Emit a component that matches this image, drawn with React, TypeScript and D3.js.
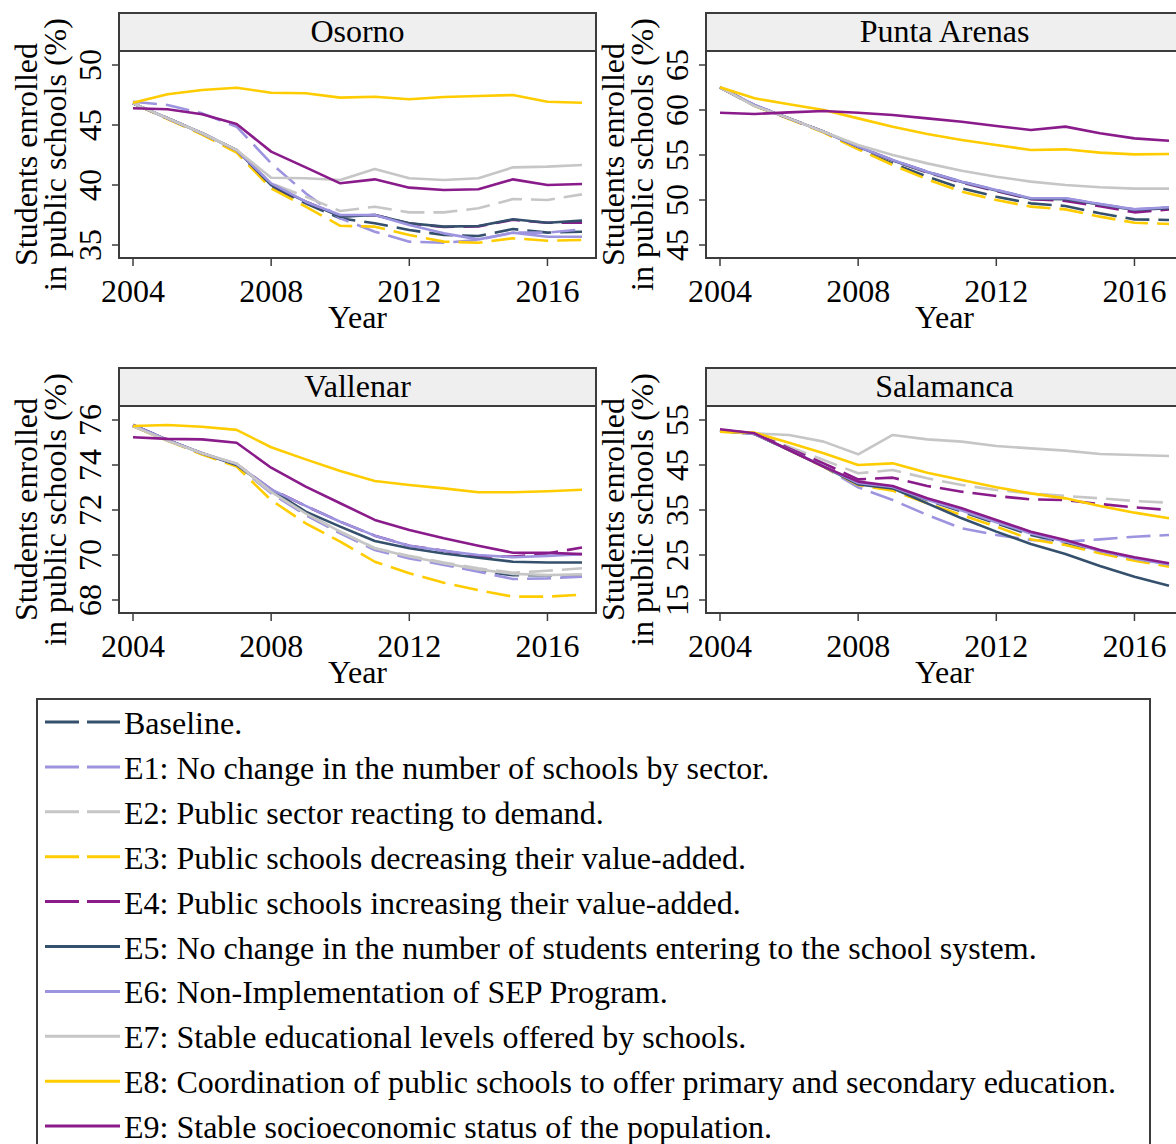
import React from "react";
import * as d3 from "d3";

// Simulation years shown on every panel
const years = [2004, 2005, 2006, 2007, 2008, 2009, 2010, 2011, 2012, 2013, 2014, 2015, 2016, 2017];
const xTicks = [2004, 2008, 2012, 2016];

// Scenario labels (legend order = drawing order)
const scenarioLabels = [
  "Baseline.",
  "E1: No change in the number of schools by sector.",
  "E2: Public sector reacting to demand.",
  "E3: Public schools decreasing their value-added.",
  "E4: Public schools increasing their value-added.",
  "E5: No change in the number of students entering to the school system.",
  "E6: Non-Implementation of SEP Program.",
  "E7: Stable educational levels offered by schools.",
  "E8: Coordination of public schools to offer primary and secondary education.",
  "E9: Stable socioeconomic status of the population.",
];
const scenarioColors = ["#34506c", "#9d94df", "#c6c6c6", "#ffcc00", "#8a1b8a", "#34506c", "#9d94df", "#c6c6c6", "#ffcc00", "#8a1b8a"];
const scenarioDashed = [true, true, true, true, true, false, false, false, false, false];

// Share of students enrolled in public schools (%), rows: Baseline, E1..E9
const osorno = [
  [46.8, 45.56, 44.31, 42.85, 39.86, 38.47, 37.22, 36.81, 36.25, 35.83, 35.75, 36.33, 36.03, 36.11],
  [46.94, 46.67, 45.97, 44.86, 41.81, 39.31, 37.22, 36.11, 35.28, 35.19, 35.42, 36.03, 36.03, 36.31],
  [46.8, 45.56, 44.31, 42.92, 40.14, 39.03, 37.83, 38.19, 37.72, 37.72, 38.06, 38.83, 38.75, 39.22],
  [46.8, 45.5, 44.2, 42.7, 39.72, 38.19, 36.6, 36.53, 35.83, 35.28, 35.19, 35.56, 35.36, 35.42],
  [46.8, 45.56, 44.31, 42.9, 40.0, 38.6, 37.4, 37.5, 36.8, 36.5, 36.55, 37.1, 36.85, 36.85],
  [46.8, 45.56, 44.31, 42.9, 40.0, 38.61, 37.36, 37.5, 36.81, 36.53, 36.58, 37.14, 36.86, 37.03],
  [46.8, 45.56, 44.31, 42.9, 40.14, 38.61, 37.5, 37.5, 36.67, 35.97, 35.47, 36.03, 35.69, 35.69],
  [46.81, 45.56, 44.31, 42.92, 40.61, 40.56, 40.42, 41.33, 40.56, 40.42, 40.56, 41.47, 41.53, 41.67],
  [46.86, 47.56, 47.92, 48.11, 47.69, 47.64, 47.28, 47.36, 47.14, 47.33, 47.42, 47.5, 46.94, 46.86],
  [46.39, 46.31, 45.89, 45.08, 42.78, 41.47, 40.14, 40.47, 39.78, 39.58, 39.64, 40.47, 40.0, 40.08],
];

const puntaArenas = [
  [62.52, 60.5, 59.07, 57.6, 55.74, 54.07, 52.59, 51.3, 50.37, 49.63, 49.33, 48.52, 47.85, 47.78],
  [62.52, 60.56, 59.07, 57.59, 55.93, 54.44, 53.15, 52.04, 51.11, 50.19, 50.19, 49.56, 48.96, 49.19],
  [62.52, 60.5, 59.07, 57.6, 55.9, 54.35, 53.0, 51.9, 51.0, 50.1, 50.05, 49.45, 48.9, 49.1],
  [62.52, 60.45, 59.0, 57.5, 55.63, 53.89, 52.3, 50.93, 50.0, 49.26, 48.96, 48.15, 47.48, 47.33],
  [62.52, 60.5, 59.07, 57.6, 55.9, 54.4, 53.1, 51.95, 51.0, 50.1, 49.9, 49.3, 48.63, 48.96],
  [62.52, 60.5, 59.07, 57.6, 55.9, 54.4, 53.1, 52.0, 51.05, 50.15, 50.1, 49.5, 48.9, 49.1],
  [62.52, 60.56, 59.07, 57.59, 55.93, 54.44, 53.15, 52.04, 51.11, 50.19, 50.19, 49.56, 48.96, 49.19],
  [62.52, 60.44, 59.07, 57.59, 56.11, 55.0, 54.07, 53.26, 52.59, 52.04, 51.67, 51.41, 51.26, 51.26],
  [62.52, 61.3, 60.63, 60.0, 59.07, 58.15, 57.33, 56.67, 56.11, 55.56, 55.63, 55.26, 55.07, 55.11],
  [59.7, 59.56, 59.74, 59.89, 59.7, 59.44, 59.07, 58.7, 58.22, 57.78, 58.15, 57.41, 56.85, 56.59],
];

const vallenar = [
  [75.73, 75.1, 74.5, 74.0, 72.8, 71.8, 71.0, 70.25, 69.9, 69.6, 69.3, 69.1, 69.1, 69.1],
  [75.73, 75.1, 74.5, 74.0, 72.74, 71.78, 70.96, 70.22, 69.85, 69.56, 69.26, 68.93, 68.96, 69.04],
  [75.73, 75.1, 74.5, 74.0, 72.8, 71.85, 71.04, 70.3, 69.96, 69.66, 69.41, 69.21, 69.3, 69.41],
  [75.73, 75.08, 74.47, 73.93, 72.44, 71.41, 70.59, 69.7, 69.19, 68.77, 68.44, 68.15, 68.15, 68.24],
  [75.78, 75.11, 74.52, 74.04, 72.92, 72.18, 71.48, 70.86, 70.41, 70.19, 69.94, 69.93, 70.07, 70.33],
  [75.78, 75.11, 74.52, 74.0, 72.89, 71.93, 71.26, 70.62, 70.3, 70.07, 69.88, 69.7, 69.67, 69.67],
  [75.78, 75.11, 74.52, 74.04, 72.92, 72.18, 71.48, 70.86, 70.41, 70.19, 70.0, 69.9, 69.96, 70.04],
  [75.73, 75.08, 74.52, 74.07, 72.81, 71.85, 71.04, 70.3, 69.93, 69.63, 69.36, 69.16, 69.11, 69.14],
  [75.73, 75.78, 75.7, 75.56, 74.79, 74.25, 73.73, 73.29, 73.11, 72.96, 72.79, 72.79, 72.83, 72.9],
  [75.23, 75.16, 75.14, 74.99, 73.88, 73.04, 72.3, 71.56, 71.11, 70.74, 70.41, 70.1, 70.1, 70.04],
];

const salamanca = [
  [52.63, 51.9, 48.4, 44.7, 40.93, 40.04, 37.22, 34.63, 32.04, 29.44, 27.74, 25.74, 24.04, 22.78],
  [52.63, 52.04, 48.33, 44.63, 40.04, 37.22, 33.89, 30.93, 29.44, 28.33, 27.96, 28.48, 29.07, 29.44],
  [52.63, 52.04, 49.07, 46.11, 43.15, 43.89, 42.04, 40.56, 39.44, 38.7, 38.11, 37.59, 37.0, 36.63],
  [52.4, 52.0, 48.3, 44.6, 40.56, 39.3, 36.48, 33.89, 31.3, 28.48, 27.22, 25.37, 23.74, 22.41],
  [52.78, 52.04, 48.7, 45.37, 41.81, 42.19, 40.33, 39.07, 38.11, 37.37, 37.22, 36.33, 35.59, 35.0],
  [52.63, 51.89, 48.33, 44.63, 40.7, 39.81, 36.48, 33.15, 30.19, 27.44, 25.22, 22.56, 20.19, 18.19],
  [52.63, 51.9, 48.4, 44.7, 41.0, 40.1, 37.3, 34.9, 32.3, 29.8, 28.0, 25.9, 24.2, 22.9],
  [52.63, 52.04, 51.67, 50.19, 47.37, 51.67, 50.7, 50.19, 49.22, 48.7, 48.19, 47.44, 47.22, 47.0],
  [52.41, 52.19, 49.96, 47.59, 45.0, 45.37, 43.3, 41.67, 40.04, 38.7, 37.59, 35.89, 34.41, 33.15],
  [52.93, 52.04, 48.33, 44.63, 41.3, 40.33, 37.59, 35.37, 32.78, 30.19, 28.33, 26.11, 24.48, 23.15],
];

const osornoTicks = [35, 40, 45, 50];
const puntaArenasTicks = [45, 50, 55, 60, 65];
const vallenarTicks = [68, 70, 72, 74, 76];
const salamancaTicks = [15, 25, 35, 45, 55];

const FONT = "'Liberation Serif', 'Times New Roman', serif";
const FRAME = "#3c3c3c";

type PanelProps = {
  title: string;
  rows: number[][];
  yTicks: number[];
  left: number;
  top: number;
};

function Panel({ title, rows, yTicks, left, top }: PanelProps) {
  const width = 477;
  const stripH = 38;
  const plotTop = top + stripH;
  const plotBottom = top + 245;
  const right = left + width;
  const x = d3.scaleLinear().domain([2004, 2017]).range([left + 14, right - 14]);
  const yMin = yTicks[0];
  const yMax = yTicks[yTicks.length - 1];
  const y = d3.scaleLinear().domain([yMin, yMax]).range([top + 232, top + 52]);
  const line = d3
    .line<number>()
    .x((_, i) => x(years[i]))
    .y((v) => y(v));
  const axisX = left - 18;
  const titleMid = (plotTop + plotBottom) / 2;
  return (
    <g>
      {/* strip header */}
      <rect x={left} y={top} width={width} height={stripH} fill="#efefef" stroke={FRAME} strokeWidth={2} />
      <text x={(left + right) / 2} y={top + 29} textAnchor="middle" fontSize={32} fontFamily={FONT}>
        {title}
      </text>
      {/* plot frame */}
      <rect x={left} y={plotTop} width={width} height={plotBottom - plotTop} fill="#fff" stroke={FRAME} strokeWidth={2} />
      {/* series */}
      {rows.map((r, i) => (
        <path
          key={i}
          d={line(r) || ""}
          fill="none"
          stroke={scenarioColors[i]}
          strokeWidth={2.6}
          strokeDasharray={scenarioDashed[i] ? "24 9" : undefined}
          strokeLinejoin="round"
        />
      ))}
      {/* y axis */}
      {yTicks.map((t) => (
        <g key={t}>
          <line x1={left - 7} x2={left} y1={y(t)} y2={y(t)} stroke={FRAME} strokeWidth={1.5} />
          <text
            transform={`translate(${axisX},${y(t)}) rotate(-90)`}
            textAnchor="middle"
            fontSize={32}
            fontFamily={FONT}
          >
            {t}
          </text>
        </g>
      ))}
      <text
        transform={`translate(${left - 82},${titleMid}) rotate(-90)`}
        textAnchor="middle"
        fontSize={32}
        fontFamily={FONT}
      >
        Students enrolled
      </text>
      <text
        transform={`translate(${left - 53},${titleMid}) rotate(-90)`}
        textAnchor="middle"
        fontSize={32}
        fontFamily={FONT}
      >
        in public schools (%)
      </text>
      {/* x axis */}
      {xTicks.map((t) => (
        <g key={t}>
          <line x1={x(t)} x2={x(t)} y1={plotBottom} y2={plotBottom + 8} stroke={FRAME} strokeWidth={1.5} />
          <text x={x(t)} y={plotBottom + 44} textAnchor="middle" fontSize={32} fontFamily={FONT}>
            {t}
          </text>
        </g>
      ))}
      <text x={(left + right) / 2} y={plotBottom + 70} textAnchor="middle" fontSize={32} fontFamily={FONT}>
        Year
      </text>
    </g>
  );
}

function Legend() {
  const boxLeft = 37;
  const boxTop = 699;
  const rowStep = 44.9;
  return (
    <g>
      <rect x={boxLeft} y={boxTop} width={1113} height={480} fill="#fff" stroke={FRAME} strokeWidth={2} />
      {scenarioLabels.map((label, i) => {
        const base = 734 + i * rowStep;
        const ly = base - 12;
        return (
          <g key={label}>
            <line
              x1={45}
              x2={120}
              y1={ly}
              y2={ly}
              stroke={scenarioColors[i]}
              strokeWidth={3}
              strokeDasharray={scenarioDashed[i] ? "34 8" : undefined}
            />
            <text x={124} y={base} fontSize={32} fontFamily={FONT}>
              {label}
            </text>
          </g>
        );
      })}
    </g>
  );
}

export default function App() {
  return (
    <svg
      width={1176}
      height={1144}
      style={{ position: "absolute", left: 0, top: 0, background: "#fff" }}
    >
      <rect x={0} y={0} width={1176} height={1144} fill="#fff" />
      <Panel title="Osorno" rows={osorno} yTicks={osornoTicks} left={119} top={13} />
      <Panel title="Punta Arenas" rows={puntaArenas} yTicks={puntaArenasTicks} left={706} top={13} />
      <Panel title="Vallenar" rows={vallenar} yTicks={vallenarTicks} left={119} top={368} />
      <Panel title="Salamanca" rows={salamanca} yTicks={salamancaTicks} left={706} top={368} />
      <Legend />
    </svg>
  );
}
